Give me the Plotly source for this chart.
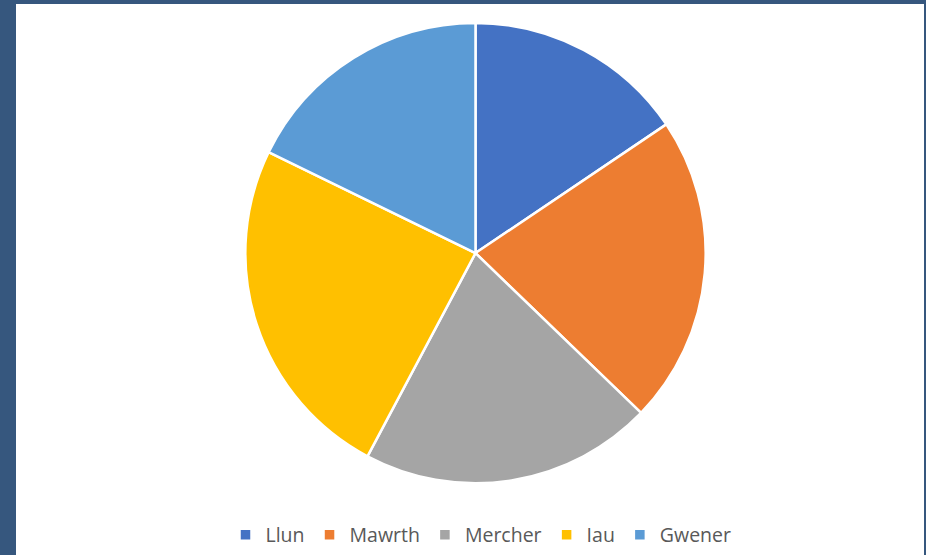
import plotly.graph_objects as go

days = ["Llun", "Mawrth", "Mercher", "Iau", "Gwener"]
values = [28, 39, 37, 44, 32]
colors = ["#4472C4", "#ED7D31", "#A5A5A5", "#FFC000", "#5B9BD5"]

W, H = 926, 555
fig = go.Figure()
fig.add_trace(go.Pie(
    labels=days, values=values, sort=False, direction="clockwise", rotation=0,
    marker=dict(colors=colors, line=dict(color="white", width=2.5)),
    textinfo="none", hoverinfo="label+value+percent",
    domain=dict(x=[244.5 / W, 706.5 / W], y=[1 - 485 / H, 1 - 23 / H]),
))
fig.update_layout(
    width=W, height=H, margin=dict(l=0, r=0, t=0, b=0),
    paper_bgcolor="#36577e", plot_bgcolor="white",
    shapes=[dict(type="rect", xref="paper", yref="paper",
                 x0=16 / W, x1=924 / W, y0=-0.02, y1=1 - 4 / H,
                 fillcolor="white", line=dict(width=0), layer="below")],
    showlegend=True,
    legend=dict(orientation="h", x=481 / W, xanchor="center", y=1 - 537 / H, yanchor="middle",
                font=dict(family="Open Sans", size=19.5, color="#595959"),
                bgcolor="rgba(0,0,0,0)", traceorder="normal"),
    font=dict(family="Open Sans"),
)
fig.write_html(
    "out.html",
    config={"displayModeBar": False},
    post_script="document.body.style.margin='0';document.body.style.overflow='hidden';",
)
